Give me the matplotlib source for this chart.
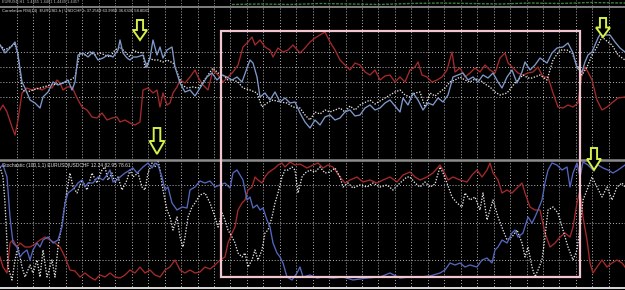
import numpy as np
import matplotlib
matplotlib.use("Agg")
import matplotlib.pyplot as plt
from matplotlib.patches import Rectangle, Polygon
from matplotlib import font_manager

# ---------------- data (y = chart level, axis inverted) -------------
top_blue_x = [0, 5, 10, 15, 18, 22, 25, 30, 35, 40, 43, 48, 53, 58, 63, 68, 72, 75, 78, 83, 88, 93, 98, 103, 108, 113, 118, 120, 123, 127, 130, 133, 137, 143, 147, 150, 153, 157, 160, 163, 167, 172, 175, 180, 185, 190, 195, 200, 207, 212, 217, 222, 227, 232, 237, 242, 247, 250, 253, 257, 260, 265, 270, 275, 280, 285, 290, 295, 300, 305, 310, 315, 320, 325, 330, 335, 340, 345, 350, 355, 360, 365, 370, 375, 380, 385, 390, 395, 400, 403, 408, 413, 418, 423, 428, 433, 438, 443, 448, 453, 458, 463, 468, 473, 478, 483, 488, 493, 498, 502, 507, 512, 517, 522, 525, 530, 535, 540, 547, 552, 557, 563, 568, 573, 577, 582, 585, 588, 592, 595, 598, 601, 605, 610, 615, 620, 625]
top_blue_y = [45, 53, 48, 42, 55, 82, 88, 100, 103, 108, 97, 92, 82, 85, 83, 80, 90, 82, 55, 53, 57, 52, 60, 58, 55, 57, 50, 40, 53, 58, 60, 57, 57, 55, 67, 58, 40, 55, 47, 58, 50, 47, 67, 83, 92, 90, 96, 88, 77, 73, 80, 75, 77, 80, 77, 82, 68, 60, 63, 77, 97, 93, 100, 92, 102, 98, 103, 102, 113, 122, 128, 120, 125, 117, 115, 120, 118, 112, 110, 116, 115, 108, 105, 110, 108, 103, 100, 106, 112, 98, 105, 93, 100, 110, 103, 105, 98, 102, 95, 77, 75, 73, 80, 77, 82, 75, 78, 73, 82, 88, 77, 70, 83, 72, 62, 70, 65, 58, 63, 53, 48, 47, 43, 53, 68, 72, 62, 55, 52, 45, 38, 33, 35, 35, 42, 48, 52]

top_white_x = [0, 5, 10, 15, 18, 22, 27, 33, 40, 50, 58, 67, 75, 80, 85, 90, 95, 100, 105, 110, 115, 120, 125, 130, 133, 137, 140, 143, 145, 150, 153, 158, 163, 167, 173, 177, 182, 187, 193, 198, 203, 208, 213, 218, 223, 228, 233, 238, 243, 250, 257, 262, 267, 273, 280, 287, 293, 300, 305, 310, 315, 320, 325, 330, 340, 345, 350, 355, 360, 370, 375, 380, 390, 395, 400, 405, 410, 415, 420, 425, 430, 435, 440, 445, 450, 455, 460, 465, 470, 475, 480, 485, 490, 495, 500, 507, 515, 523, 528, 532, 540, 547, 553, 560, 567, 572, 577, 582, 587, 592, 597, 602, 608, 612, 618, 625]
top_white_y = [45, 50, 47, 44, 55, 90, 92, 90, 88, 85, 84, 82, 77, 53, 55, 52, 55, 53, 55, 57, 50, 47, 52, 57, 50, 52, 53, 52, 68, 58, 60, 60, 62, 60, 63, 72, 85, 88, 87, 88, 82, 75, 68, 73, 75, 80, 80, 82, 88, 90, 93, 107, 103, 100, 102, 103, 107, 108, 115, 120, 112, 114, 110, 112, 108, 112, 106, 110, 105, 100, 104, 101, 95, 92, 90, 95, 97, 93, 92, 107, 93, 96, 92, 88, 82, 80, 77, 80, 82, 79, 80, 84, 87, 92, 95, 93, 83, 75, 78, 78, 75, 80, 60, 50, 50, 53, 65, 75, 67, 55, 47, 37, 42, 45, 55, 60]

top_red_x = [0, 3, 7, 12, 15, 18, 22, 27, 32, 37, 42, 47, 52, 57, 60, 63, 67, 72, 77, 82, 87, 92, 97, 102, 107, 112, 117, 120, 125, 130, 135, 140, 143, 148, 153, 157, 160, 163, 167, 170, 173, 177, 180, 185, 190, 195, 198, 203, 208, 213, 218, 223, 228, 233, 238, 243, 248, 252, 255, 260, 265, 270, 273, 278, 283, 288, 293, 300, 305, 310, 315, 320, 325, 330, 335, 340, 345, 350, 355, 360, 365, 370, 375, 380, 385, 390, 395, 400, 405, 410, 415, 418, 422, 427, 432, 437, 442, 447, 452, 455, 460, 465, 470, 475, 480, 485, 490, 495, 500, 505, 508, 513, 518, 523, 528, 533, 538, 543, 548, 553, 558, 563, 568, 573, 578, 582, 585, 588, 592, 597, 602, 607, 613, 618, 625]
top_red_y = [110, 105, 112, 127, 135, 120, 93, 88, 90, 88, 90, 87, 88, 80, 83, 90, 87, 87, 98, 107, 110, 117, 118, 113, 120, 118, 117, 122, 120, 123, 125, 122, 90, 88, 93, 90, 107, 93, 105, 103, 93, 87, 80, 83, 77, 70, 77, 85, 90, 70, 75, 82, 77, 72, 65, 47, 42, 37, 45, 40, 47, 50, 57, 48, 52, 50, 45, 53, 48, 42, 38, 35, 32, 42, 50, 60, 65, 70, 63, 65, 72, 75, 70, 80, 76, 75, 82, 77, 82, 70, 67, 62, 75, 77, 82, 80, 77, 70, 52, 72, 68, 77, 73, 68, 72, 65, 70, 73, 58, 53, 63, 68, 73, 75, 73, 72, 67, 77, 77, 93, 107, 108, 105, 107, 103, 73, 67, 72, 80, 100, 110, 107, 102, 98, 97]

bot_blue_x = [0, 3, 7, 10, 13, 17, 20, 23, 27, 30, 33, 37, 40, 43, 48, 53, 58, 62, 65, 68, 72, 75, 78, 82, 85, 88, 93, 98, 103, 107, 110, 113, 117, 120, 125, 130, 133, 137, 140, 143, 148, 152, 155, 158, 162, 165, 168, 172, 177, 182, 187, 190, 195, 200, 205, 210, 215, 220, 225, 230, 233, 237, 240, 243, 247, 250, 253, 257, 260, 263, 267, 270, 273, 277, 280, 283, 287, 292, 297, 300, 303, 310, 317, 323, 333, 343, 353, 367, 380, 390, 400, 410, 420, 430, 440, 445, 450, 455, 460, 465, 470, 477, 482, 487, 492, 495, 498, 502, 507, 512, 515, 518, 523, 528, 532, 535, 538, 542, 545, 548, 552, 557, 562, 567, 570, 573, 577, 580, 583, 588, 593, 598, 603, 608, 613, 618, 625]
bot_blue_y = [167, 165, 177, 217, 243, 247, 257, 253, 250, 260, 250, 243, 247, 240, 237, 243, 240, 227, 203, 193, 190, 187, 183, 180, 187, 183, 183, 177, 180, 175, 170, 182, 180, 177, 173, 170, 168, 173, 170, 167, 163, 168, 163, 165, 177, 190, 187, 203, 210, 207, 208, 190, 187, 181, 183, 181, 187, 185, 183, 188, 173, 170, 175, 180, 200, 197, 208, 205, 210, 208, 220, 227, 243, 253, 257, 263, 277, 280, 273, 267, 277, 275, 278, 277, 278, 277, 280, 278, 277, 273, 278, 277, 277, 276, 273, 270, 263, 265, 263, 267, 265, 267, 260, 258, 263, 250, 247, 240, 243, 233, 230, 237, 233, 217, 223, 217, 210, 200, 183, 170, 163, 165, 170, 167, 187, 173, 163, 177, 162, 165, 170, 165, 168, 170, 173, 170, 165]

bot_white_x = [0, 3, 5, 7, 8, 12, 15, 18, 22, 25, 30, 33, 37, 40, 43, 47, 52, 55, 58, 63, 67, 70, 73, 77, 82, 87, 92, 97, 102, 105, 108, 112, 115, 118, 122, 127, 130, 133, 138, 142, 145, 148, 152, 155, 158, 160, 163, 167, 170, 173, 177, 180, 183, 185, 188, 192, 195, 200, 205, 210, 215, 218, 222, 225, 228, 232, 235, 238, 242, 245, 248, 252, 255, 258, 262, 265, 268, 272, 275, 278, 282, 285, 288, 292, 295, 298, 302, 305, 310, 315, 320, 325, 330, 335, 340, 343, 348, 353, 360, 367, 373, 380, 387, 393, 400, 407, 410, 415, 420, 425, 430, 435, 440, 443, 447, 452, 457, 462, 465, 470, 475, 480, 483, 487, 490, 493, 498, 503, 507, 512, 517, 522, 525, 528, 532, 535, 538, 542, 545, 548, 553, 558, 563, 568, 573, 577, 580, 583, 587, 592, 597, 602, 607, 612, 617, 622, 625]
bot_white_y = [167, 177, 203, 243, 267, 280, 260, 247, 267, 277, 265, 273, 260, 277, 250, 277, 260, 277, 247, 217, 190, 173, 187, 193, 180, 190, 173, 183, 170, 167, 180, 173, 183, 177, 190, 180, 170, 177, 173, 187, 190, 173, 163, 167, 160, 170, 190, 210, 217, 230, 217, 237, 247, 237, 217, 207, 203, 195, 193, 203, 217, 227, 213, 220, 230, 237, 243, 253, 257, 253, 267, 260, 250, 260, 250, 233, 230, 217, 203, 193, 177, 170, 170, 167, 170, 193, 177, 173, 170, 172, 167, 173, 172, 168, 177, 187, 183, 188, 185, 187, 183, 187, 185, 190, 183, 177, 177, 183, 187, 182, 187, 184, 167, 173, 183, 197, 203, 207, 193, 200, 197, 210, 193, 220, 210, 200, 217, 230, 240, 237, 230, 243, 257, 247, 267, 277, 270, 260, 237, 210, 207, 213, 230, 247, 260, 250, 227, 200, 190, 177, 187, 197, 187, 200, 187, 183, 187]

bot_red_x = [0, 3, 7, 10, 13, 17, 20, 25, 30, 35, 40, 45, 50, 55, 60, 65, 70, 75, 80, 85, 90, 95, 100, 105, 110, 115, 120, 125, 130, 135, 140, 145, 150, 155, 160, 165, 170, 175, 180, 185, 190, 195, 200, 205, 210, 215, 220, 225, 228, 232, 235, 238, 242, 245, 248, 252, 255, 258, 262, 265, 268, 272, 275, 278, 282, 285, 290, 295, 300, 307, 313, 318, 323, 328, 333, 340, 345, 350, 357, 363, 370, 377, 383, 390, 397, 403, 410, 415, 420, 427, 433, 440, 443, 448, 453, 460, 467, 472, 477, 482, 487, 490, 493, 498, 502, 507, 512, 517, 522, 525, 530, 535, 540, 545, 550, 555, 560, 565, 570, 573, 577, 580, 583, 587, 590, 593, 597, 602, 607, 612, 617, 622, 625]
bot_red_y = [257, 267, 273, 243, 240, 247, 243, 247, 247, 244, 240, 237, 240, 243, 247, 257, 270, 271, 277, 273, 277, 280, 275, 277, 273, 277, 278, 275, 270, 273, 267, 273, 270, 275, 277, 270, 267, 260, 270, 273, 270, 273, 272, 267, 269, 265, 260, 257, 243, 233, 227, 210, 203, 200, 190, 187, 177, 180, 183, 177, 173, 170, 168, 165, 163, 167, 162, 165, 164, 168, 165, 163, 168, 165, 167, 177, 183, 180, 177, 182, 180, 183, 180, 177, 182, 175, 172, 177, 180, 177, 173, 165, 170, 180, 177, 180, 182, 175, 170, 177, 170, 163, 173, 180, 193, 190, 193, 188, 183, 193, 207, 210, 210, 233, 247, 243, 237, 233, 237, 227, 203, 190, 217, 240, 263, 273, 267, 260, 267, 263, 260, 263, 267]

# faint tail of the main price window above the indicators
price_tail_x = [232, 260, 290, 320, 350, 380, 410, 440, 470, 500, 530, 560, 590, 625]
price_tail_y = [4.5, 4.0, 4.5, 3.5, 4.0, 4.5, 3.5, 3.0, 3.5, 4.0, 3.0, 3.5, 2.5, 3.0]

top_label = "Correlation RSI(14)  EURUSD-h | USDCHF-h 37.2569 63.9958 36.6306 58.8080"
bot_label = "Stochastic (100,1,1) EURUSD|USDCHF 12.24 82.95 78.61"
main_label = "EURUSD,H1  1.4455 1.4461 1.4449 1.4457"

# highlight box and arrow markers
box_x0, box_x1, box_y0, box_y1 = 221, 580, 31, 277
arrow_cx = [140, 157, 603, 594]
arrow_top = [20, 128, 18, 148]
arrow_tip = [40, 154, 37, 170]
arrow_w = [14, 15, 14, 14]

# ---------------- style ----------------
BG = "#000000"
GRID = "#b4b4b4"
BLUE_TOP = "#7e99c9"
BLUE_BOT = "#5467bd"
RED = "#a52a2a"
WHITE = "#e6e6e6"
PINK = "#f1c6ce"
ARROW = "#d6ef4a"

names = {f.name for f in font_manager.fontManager.ttflist}
LABEL_FONT = "Liberation Sans Narrow" if "Liberation Sans Narrow" in names else "Liberation Sans"

W, H = 625, 290
fig = plt.figure(figsize=(W / 100, H / 100), dpi=100, facecolor=BG)

def panel(y_top, y_bot):
    ax = fig.add_axes([0, 1 - y_bot / H, 1, (y_bot - y_top) / H])
    ax.set_facecolor(BG)
    ax.set_xlim(0, W)
    ax.set_ylim(y_bot, y_top)
    ax.axis("off")
    return ax

ax_top = panel(8, 159)
ax_bot = panel(160, 288)

grid_x = np.arange(16.6, W, 16.45)
grid_ls = (0, (1, 2))
for ax, (yt, yb), hlines in [(ax_top, (8, 159), [52, 67, 82, 97]),
                              (ax_bot, (160, 288), [185, 223, 260])]:
    for gx in grid_x:
        ax.plot([gx, gx], [yt, yb], color=GRID, lw=0.7, ls=grid_ls, zorder=1)
    for gy in hlines:
        ax.plot([0, W], [gy, gy], color=GRID, lw=0.7, ls=grid_ls, zorder=1)

lw = 0.95
ax_top.plot(top_red_x, top_red_y, color=RED, lw=lw, zorder=3)
ax_top.plot(top_white_x, top_white_y, color=WHITE, lw=lw, ls=(0, (1, 1.2)), zorder=4)
ax_top.plot(top_blue_x, top_blue_y, color=BLUE_TOP, lw=lw, zorder=5)

ax_bot.plot(bot_red_x, bot_red_y, color=RED, lw=lw, zorder=3)
ax_bot.plot(bot_white_x, bot_white_y, color=WHITE, lw=lw, ls=(0, (1, 1.2)), zorder=4)
ax_bot.plot(bot_blue_x, bot_blue_y, color=BLUE_BOT, lw=lw, zorder=5)

# overlay for frame lines, labels, box and arrows
ov = fig.add_axes([0, 0, 1, 1])
ov.set_xlim(0, W)
ov.set_ylim(H, 0)
ov.axis("off")
ov.patch.set_alpha(0)

for gx in grid_x:
    ov.plot([gx, gx], [0, 6], color=GRID, lw=0.6, ls=grid_ls)
ov.plot(price_tail_x, price_tail_y, color="#3f7f3f", lw=1.0, ls=(0, (2, 1)))
ov.plot([0, W], [6.5, 6.5], color="#8a8a8a", lw=1.3)
ov.plot([0, W], [159.5, 159.5], color="#8c8c8c", lw=1.8)
ov.plot([0, W], [287.5, 287.5], color="#d8d8d8", lw=1.4)

def fit_text(x, y, s, width_px, size=4.0, color="#e2e2e2"):
    t = ov.text(x, y, s, color=color, fontsize=size, va="center", ha="left",
                family=[LABEL_FONT, "DejaVu Sans"], zorder=10)
    fig.canvas.draw()
    w = t.get_window_extent().width
    t.set_fontsize(size * width_px / w)
    return t

fit_text(2, 11, top_label, 145)
fit_text(2, 165.5, bot_label, 128)
fit_text(2, 2, main_label, 76, color="#bdbdbd")

ov.add_patch(Rectangle((box_x0, box_y0), box_x1 - box_x0, box_y1 - box_y0,
                       fill=False, edgecolor=PINK, lw=1.6, zorder=8))

for cx, ty, by, w in zip(arrow_cx, arrow_top, arrow_tip, arrow_w):
    s = w * 0.22
    h = w / 2
    hy = ty + 0.5 * (by - ty)
    pts = [(cx - s, ty), (cx + s, ty), (cx + s, hy), (cx + h, hy),
           (cx, by), (cx - h, hy), (cx - s, hy)]
    ov.add_patch(Polygon(pts, closed=True, facecolor=BG, edgecolor=ARROW,
                         lw=1.4, joinstyle="miter", zorder=9))

fig.savefig("out.png", dpi=100, facecolor=BG)
